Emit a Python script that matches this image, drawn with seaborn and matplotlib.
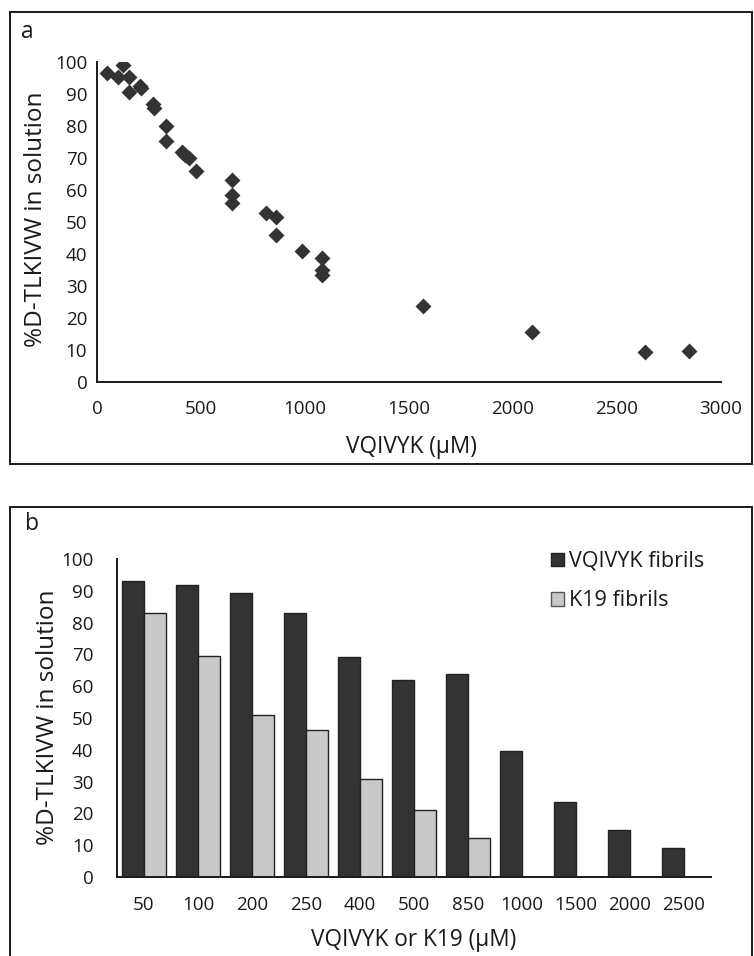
import numpy as np
import pandas as pd
import matplotlib
matplotlib.use("Agg")
import matplotlib.pyplot as plt
import seaborn as sns
from matplotlib.patches import Rectangle, Patch

# ---------------- data ----------------
# panel a: scatter
conc_a = [47, 103, 127, 156, 156, 205, 214, 271, 276, 332, 332, 408, 425, 443,
          477, 648, 648, 648, 812, 860, 860, 988, 1082, 1082, 1082,
          1568, 2093, 2638, 2847]
pct_a = [96.5, 95.4, 99.0, 95.4, 90.5, 92.5, 92.0, 87.0, 85.7, 80.0, 75.2, 72.0, 71.0, 70.0,
         65.9, 63.0, 58.3, 55.9, 52.8, 51.7, 45.8, 40.8, 38.8, 35.0, 33.5,
         23.8, 15.5, 9.5, 9.7]

# panel b: grouped bars
categories = ["50", "100", "200", "250", "400", "500", "850", "1000", "1500", "2000", "2500"]
vqivyk_fibrils = [93.1, 91.8, 89.2, 83.1, 69.3, 61.9, 63.8, 39.6, 23.5, 14.9, 9.1]
k19_fibrils = [83.1, 69.6, 51.1, 46.2, 30.8, 21.2, 12.2, np.nan, np.nan, np.nan, np.nan]
series_names = ["VQIVYK fibrils", "K19 fibrils"]

y_ticks = [0, 10, 20, 30, 40, 50, 60, 70, 80, 90, 100]
x_ticks_a = [0, 500, 1000, 1500, 2000, 2500, 3000]

# ---------------- style ----------------
sns.set_theme(style="white")
plt.rcParams["font.family"] = ["Open Sans", "DejaVu Sans"]

DARK = "#333333"
LIGHT = "#c9c9c9"
INK = "#1a1a1a"

W, H = 754, 956
fig = plt.figure(figsize=(W / 100, H / 100), dpi=100)
fig.patch.set_facecolor("white")


def fx(px):
    return px / W


def fy(py):
    return 1 - py / H


# panel frames
fig.patches.append(Rectangle((fx(10), fy(464)), fx(752) - fx(10), fy(12) - fy(464),
                             transform=fig.transFigure, fill=False, edgecolor=INK, linewidth=1.4))
fig.patches.append(Rectangle((fx(10), fy(1000)), fx(752) - fx(10), fy(507) - fy(1000),
                             transform=fig.transFigure, fill=False, edgecolor=INK, linewidth=1.4,
                             clip_on=False))

fig.text(fx(27), fy(32), "a", fontsize=16.5, ha="center", va="center", color=INK)
fig.text(fx(32), fy(524), "b", fontsize=16.5, ha="center", va="center", color=INK)

TICK_FS = 13.5
XLABEL_FS = 16.3
YLABEL_FS = 17.5

# ---------------- panel a ----------------
axa = fig.add_axes([fx(97), fy(382), fx(720.7) - fx(97), fy(62) - fy(382)])
sns.scatterplot(x=conc_a, y=pct_a, ax=axa, marker="D", s=66, color=DARK,
                edgecolor=DARK, linewidth=0, zorder=3)
axa.set_xlim(0, 3000)
axa.set_ylim(0, 100)
axa.set_xticks(x_ticks_a)
axa.set_yticks(y_ticks)
axa.tick_params(axis="both", direction="out", length=4, width=1.4, color=INK,
                labelsize=TICK_FS, labelcolor=INK)
axa.tick_params(axis="x", pad=9)
axa.tick_params(axis="y", pad=3)
for side in ["top", "right"]:
    axa.spines[side].set_visible(False)
for side in ["left", "bottom"]:
    axa.spines[side].set_color(INK)
    axa.spines[side].set_linewidth(1.4)
axa.set_facecolor("none")
axa.set_xlabel("VQIVYK (μM)", fontsize=XLABEL_FS, color=INK)
axa.set_ylabel("%D-TLKIVW in solution", fontsize=YLABEL_FS, color=INK)
axa.xaxis.set_label_coords(fx(411), fy(447), transform=fig.transFigure)
axa.xaxis.label.set_va("center")
axa.yaxis.set_label_coords(fx(36.5), fy(219), transform=fig.transFigure)
axa.yaxis.label.set_va("center")

# ---------------- panel b ----------------
df = pd.DataFrame({
    "conc": categories * 2,
    "pct": vqivyk_fibrils + k19_fibrils,
    "fibrils": [series_names[0]] * len(categories) + [series_names[1]] * len(categories),
}).dropna()

axb = fig.add_axes([fx(117), fy(877), fx(711) - fx(117), fy(559) - fy(877)])
sns.barplot(data=df, x="conc", y="pct", hue="fibrils", order=categories,
            hue_order=series_names, palette=[DARK, LIGHT], saturation=1,
            width=0.8, edgecolor="#222222", linewidth=1.0, errorbar=None,
            legend=False, ax=axb)
axb.set_xlim(-0.5, len(categories) - 0.5)
axb.set_ylim(0, 100)
axb.set_yticks(y_ticks)
axb.set_xticks(np.arange(len(categories)) - 0.5)
axb.set_xticklabels([])
axb.set_xticks(np.arange(len(categories)), minor=True)
axb.set_xticklabels(categories, minor=True)
axb.tick_params(axis="x", which="major", direction="out", length=5, width=1.4, color=INK)
axb.tick_params(axis="x", which="minor", length=0, pad=14, labelsize=TICK_FS, labelcolor=INK)
axb.tick_params(axis="y", direction="out", length=5, width=1.4, color=INK,
                labelsize=TICK_FS, labelcolor=INK, pad=12)
for side in ["top", "right"]:
    axb.spines[side].set_visible(False)
for side in ["left", "bottom"]:
    axb.spines[side].set_color(INK)
    axb.spines[side].set_linewidth(1.4)
axb.set_facecolor("none")
axb.set_xlabel("VQIVYK or K19 (μM)", fontsize=XLABEL_FS, color=INK)
axb.set_ylabel("%D-TLKIVW in solution", fontsize=YLABEL_FS, color=INK)
axb.xaxis.set_label_coords(fx(414), fy(940), transform=fig.transFigure)
axb.xaxis.label.set_va("center")
axb.yaxis.set_label_coords(fx(48), fy(717), transform=fig.transFigure)
axb.yaxis.label.set_va("center")

handles = [Patch(facecolor=DARK, edgecolor="#222222", linewidth=1.0, label=series_names[0]),
           Patch(facecolor=LIGHT, edgecolor="#555555", linewidth=1.0, label=series_names[1])]
axb.legend(handles=handles, loc="upper left", bbox_to_anchor=(fx(551), fy(551)),
           bbox_transform=fig.transFigure, frameon=False, fontsize=15.5,
           handlelength=0.6, handleheight=0.6, handletextpad=0.25,
           labelspacing=0.85, borderpad=0, borderaxespad=0, labelcolor=INK)

fig.savefig("out.png", dpi=100, facecolor="white")
